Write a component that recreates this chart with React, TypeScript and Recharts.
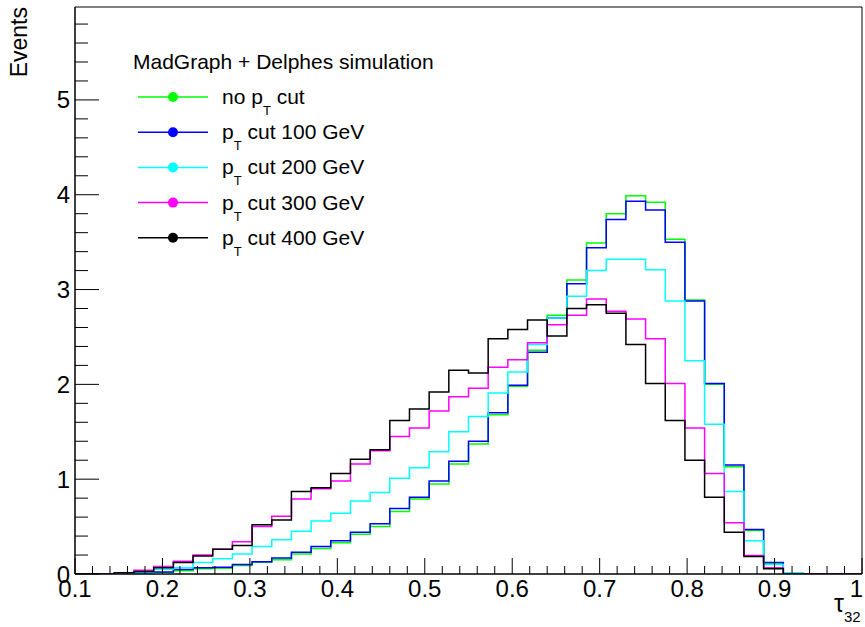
import React from "react";
import { LineChart, Line, XAxis, YAxis, ReferenceArea } from "recharts";

const FONT = "'Liberation Sans', Arial, Helvetica, sans-serif";

// tau32 histogram: 40 bins between 0.1 and 1.0
const X_MIN = 0.1;
const X_MAX = 1.0;
const N_BINS = 40;
const BIN_W = (X_MAX - X_MIN) / N_BINS;
const Y_MAX = 5.98;

const noCut = [
  0, 0, 0.005, 0.008, 0.012, 0.035, 0.055, 0.06, 0.09, 0.125,
  0.15, 0.21, 0.27, 0.33, 0.42, 0.5, 0.66, 0.79, 0.95, 1.16,
  1.37, 1.68, 1.98, 2.36, 2.73, 3.1, 3.49, 3.8, 3.99, 3.92,
  3.53, 2.89, 2.0, 1.13, 0.46, 0.11, 0.005, 0, 0, 0
];
const cut100 = [
  0, 0, 0.005, 0.012, 0.02, 0.048, 0.065, 0.07, 0.1, 0.13,
  0.17, 0.23, 0.29, 0.35, 0.44, 0.53, 0.69, 0.81, 0.98, 1.19,
  1.4, 1.7, 1.99, 2.34, 2.7, 3.06, 3.44, 3.74, 3.93, 3.84,
  3.5, 2.88, 2.01, 1.15, 0.47, 0.12, 0.005, 0, 0, 0
];
const cut200 = [
  0, 0, 0.008, 0.02, 0.05, 0.065, 0.12, 0.16, 0.21, 0.29,
  0.36, 0.45, 0.56, 0.64, 0.77, 0.86, 1.01, 1.12, 1.29, 1.5,
  1.66, 1.91, 2.13, 2.42, 2.7, 2.93, 3.2, 3.32, 3.32, 3.21,
  2.88, 2.25, 1.58, 0.87, 0.35, 0.1, 0.013, 0, 0, 0
];
const cut300 = [
  0, 0, 0.013, 0.04, 0.08, 0.135, 0.2, 0.26, 0.34, 0.5,
  0.61, 0.79, 0.9, 0.98, 1.16, 1.3, 1.45, 1.54, 1.72, 1.87,
  1.96, 2.18, 2.26, 2.44, 2.63, 2.73, 2.9, 2.77, 2.69, 2.48,
  2.01, 1.54, 1.06, 0.54, 0.195, 0.065, 0, 0, 0, 0
];
const cut400 = [
  0, 0, 0.013, 0.027, 0.065, 0.12, 0.19, 0.26, 0.3, 0.52,
  0.57, 0.87, 0.91, 1.06, 1.21, 1.31, 1.62, 1.74, 1.92, 2.15,
  2.12, 2.48, 2.58, 2.68, 2.51, 2.8, 2.84, 2.75, 2.42, 2.01,
  1.62, 1.2, 0.81, 0.44, 0.185, 0.055, 0, 0, 0, 0
];

const series = [
  { key: "noCut", pre: "no p", post: " cut", color: "#00ff00", values: noCut },
  { key: "cut100", pre: "p", post: " cut 100 GeV", color: "#0000ff", values: cut100 },
  { key: "cut200", pre: "p", post: " cut 200 GeV", color: "#00ffff", values: cut200 },
  { key: "cut300", pre: "p", post: " cut 300 GeV", color: "#ff00ff", values: cut300 },
  { key: "cut400", pre: "p", post: " cut 400 GeV", color: "#000000", values: cut400 }
];

// left bin edges, plus the upper edge so the last step is drawn
const data = Array.from({ length: N_BINS + 1 }, (_, i) => {
  const row: Record<string, number> = { x: X_MIN + i * BIN_W };
  series.forEach((s) => {
    row[s.key] = s.values[Math.min(i, N_BINS - 1)];
  });
  return row;
});

const xTicks = Array.from({ length: 46 }, (_, i) => +(0.1 + i * 0.02).toFixed(2));
const yTicks = Array.from({ length: 30 }, (_, i) => +(i * 0.2).toFixed(1));

const isMajorX = (v: number) => Math.abs(v * 10 - Math.round(v * 10)) < 1e-6;

const XTick = (props: any) => {
  const { x, y, payload } = props;
  const v = payload.value;
  const major = isMajorX(v);
  const last = v === 1;
  return (
    <g>
      <line x1={x} y1={y} x2={x} y2={y - (major ? 16 : 8)} stroke="#000" strokeWidth={1} />
      {major && (
        <text
          x={last ? x + 1 : x}
          y={y + 23}
          textAnchor={last ? "end" : "middle"}
          fontSize={24}
          fontFamily={FONT}
          fill="#000"
        >
          {last ? "1" : v.toFixed(1)}
        </text>
      )}
    </g>
  );
};

const YTick = (props: any) => {
  const { x, y, payload } = props;
  const v = payload.value;
  const major = Number.isInteger(v);
  return (
    <g>
      <line x1={x} y1={y} x2={x + (major ? 24 : 13)} y2={y} stroke="#000" strokeWidth={1} />
      {major && (
        <text x={x - 5} y={y + 8.5} textAnchor="end" fontSize={24} fontFamily={FONT} fill="#000">
          {v}
        </text>
      )}
    </g>
  );
};

const Overlay = () => (
  <svg
    width={865}
    height={627}
    style={{ position: "absolute", left: 0, top: 0, pointerEvents: "none" }}
    fontFamily={FONT}
  >
    <text x={27} y={7} transform="rotate(-90 27 7)" textAnchor="end" fontSize={23} fill="#000">
      Events
    </text>
    <text x={834} y={612} fontSize={25} fill="#000">
      τ<tspan fontSize={15} dy={10}>32</tspan>
    </text>
    <text x={133} y={69} fontSize={21} fill="#000">
      MadGraph + Delphes simulation
    </text>
    {series.map((s, i) => {
      const cy = 97 + i * 35.2;
      return (
        <g key={s.key}>
          <line x1={138} y1={cy} x2={208} y2={cy} stroke={s.color} strokeWidth={1.5} />
          <circle cx={173} cy={cy} r={5} fill={s.color} />
          <text x={222} y={cy + 7} fontSize={21} fill="#000" style={{ whiteSpace: "pre" }}>
            {s.pre}
            <tspan fontSize={13} dy={11}>T</tspan>
            <tspan dy={-11}>{s.post}</tspan>
          </text>
        </g>
      );
    })}
  </svg>
);

export default function App() {
  return (
    <div style={{ position: "absolute", left: 0, top: 0, width: 865, height: 627, background: "#fff" }}>
      <LineChart
        width={865}
        height={627}
        data={data}
        margin={{ top: 7, right: 3, left: 0, bottom: 0 }}
      >
        <XAxis
          dataKey="x"
          type="number"
          domain={[X_MIN, X_MAX]}
          ticks={xTicks}
          interval={0}
          tickSize={0}
          tickMargin={0}
          tick={<XTick />}
          height={53}
          axisLine={{ stroke: "#000" }}
          allowDataOverflow
        />
        <YAxis
          type="number"
          domain={[0, Y_MAX]}
          ticks={yTicks}
          interval={0}
          tickSize={0}
          tickMargin={0}
          tick={<YTick />}
          width={75}
          axisLine={{ stroke: "#000" }}
          allowDataOverflow
        />
        <ReferenceArea x1={X_MIN} x2={X_MAX} y1={0} y2={Y_MAX} fill="none" stroke="#000" strokeWidth={1} />
        {series.map((s) => (
          <Line
            key={s.key}
            type="stepAfter"
            dataKey={s.key}
            stroke={s.color}
            strokeWidth={1.5}
            dot={false}
            activeDot={false}
            isAnimationActive={false}
          />
        ))}
      </LineChart>
      <Overlay />
    </div>
  );
}
